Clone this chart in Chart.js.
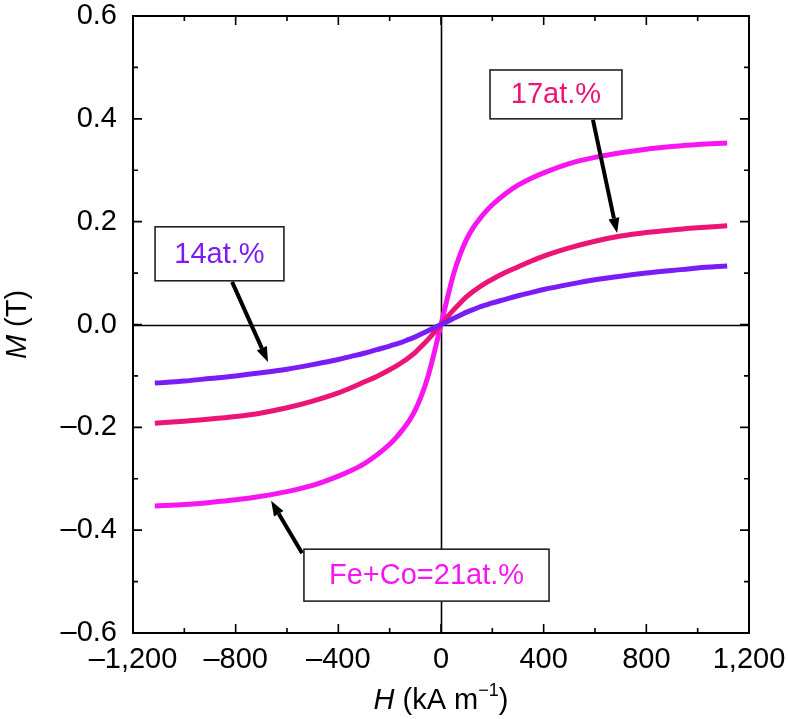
<!DOCTYPE html>
<html>
<head>
<meta charset="utf-8">
<script src="https://cdn.jsdelivr.net/npm/chart.js@4"></script>
<style>
  html, body { margin: 0; padding: 0; background: #fff; }
  #wrap { width: 788px; height: 719px; position: relative; }
</style>
</head>
<body>
<div id="wrap"><canvas id="mh"></canvas></div>
<script>
// field H (kA/m)
const hField = [-1115, -1000, -900, -800, -700, -600, -500, -400, -350, -300, -250, -200, -175, -150, -125, -100, -75, -50, -25,
  0, 25, 50, 75, 100, 125, 150, 175, 200, 250, 300, 350, 400, 500, 600, 700, 800, 900, 1000, 1115];
// magnetisation M (T)
const m21 = [-0.353, -0.350, -0.346, -0.341, -0.334, -0.325, -0.313, -0.295, -0.284, -0.271, -0.254, -0.233, -0.220, -0.205, -0.188, -0.166, -0.137, -0.100, -0.052,
  0, 0.052, 0.100, 0.137, 0.166, 0.188, 0.205, 0.220, 0.233, 0.254, 0.271, 0.284, 0.295, 0.313, 0.325, 0.334, 0.341, 0.346, 0.350, 0.353];
const m17 = [-0.192, -0.188, -0.184, -0.179, -0.172, -0.162, -0.149, -0.133, -0.123, -0.112, -0.101, -0.088, -0.081, -0.073, -0.064, -0.054, -0.042, -0.029, -0.015,
  0, 0.015, 0.029, 0.042, 0.054, 0.064, 0.073, 0.081, 0.088, 0.101, 0.112, 0.123, 0.133, 0.149, 0.162, 0.172, 0.179, 0.184, 0.188, 0.192];
const m14 = [-0.114, -0.110, -0.105, -0.100, -0.094, -0.087, -0.078, -0.068, -0.062, -0.056, -0.049, -0.042, -0.038, -0.034, -0.029, -0.024, -0.018, -0.012, -0.006,
  0, 0.006, 0.012, 0.018, 0.024, 0.029, 0.034, 0.038, 0.042, 0.049, 0.056, 0.062, 0.068, 0.078, 0.087, 0.094, 0.100, 0.105, 0.110, 0.114];

const xTicks = [-1200, -800, -400, 0, 400, 800, 1200];
const yTicks = [-0.6, -0.4, -0.2, 0, 0.2, 0.4, 0.6];

const C21 = "#f716f0";
const C17 = "#ec1476";
const C14 = "#7a1cf5";
const FONT = "'Liberation Sans', Arial, Helvetica, sans-serif";

// label boxes and arrows, in data units
const notes = [
  { text: "17at.%", color: C17, box: [191, 705, 0.495, 0.400], from: [592, 0.398], to: [686, 0.178] },
  { text: "14at.%", color: C14, box: [-1114, -612, 0.190, 0.085], from: [-814, 0.083], to: [-674, -0.073] },
  { text: "Fe+Co=21at.%", color: C21, box: [-534, 421, -0.437, -0.538], from: [-541, -0.445], to: [-662, -0.343] },
];

function pts(ys) {
  return hField.map((h, i) => ({ x: h, y: ys[i] }));
}

function fmtX(v) {
  const s = Math.abs(v).toLocaleString("en-US");
  return v < 0 ? "\u2013" + s : s;
}
function fmtY(v) {
  const s = Math.abs(v).toFixed(1);
  return v < -1e-9 ? "\u2013" + s : s;
}

function drawRich(ctx, parts, cx, cy) {
  // parts: [text, italic, sup]
  let total = 0;
  parts.forEach(p => {
    ctx.font = (p[1] ? "italic " : "") + (p[2] ? 18 : 29) + "px " + FONT;
    total += ctx.measureText(p[0]).width;
  });
  let x = cx - total / 2;
  ctx.textBaseline = "middle";
  ctx.textAlign = "left";
  parts.forEach(p => {
    ctx.font = (p[1] ? "italic " : "") + (p[2] ? 18 : 29) + "px " + FONT;
    ctx.fillText(p[0], x, p[2] ? cy - 10 : cy);
    x += ctx.measureText(p[0]).width;
  });
}

const framePlugin = {
  id: "frame",
  beforeDatasetsDraw(chart) {
    const { ctx, chartArea: a, scales: { x, y } } = chart;
    ctx.save();
    ctx.strokeStyle = "#000";
    ctx.lineWidth = 1.6;
    ctx.beginPath();
    const x0 = Math.round(x.getPixelForValue(0)) + 0.5;
    const y0 = Math.round(y.getPixelForValue(0)) + 0.5;
    ctx.moveTo(x0, a.top); ctx.lineTo(x0, a.bottom);
    ctx.moveTo(a.left, y0); ctx.lineTo(a.right, y0);
    ctx.stroke();
    ctx.restore();
  },
  afterDatasetsDraw(chart) {
    const { ctx, chartArea: a, scales: { x, y } } = chart;
    ctx.save();
    // frame
    ctx.strokeStyle = "#000";
    ctx.lineWidth = 2;
    ctx.strokeRect(a.left, a.top, a.right - a.left, a.bottom - a.top);
    // inward ticks
    ctx.lineWidth = 1.6;
    ctx.beginPath();
    for (let v = -1200; v <= 1200; v += 200) {
      const px = x.getPixelForValue(v);
      const len = v % 400 === 0 ? 9 : 5;
      ctx.moveTo(px, a.bottom); ctx.lineTo(px, a.bottom - len);
      ctx.moveTo(px, a.top); ctx.lineTo(px, a.top + len);
    }
    for (let k = -6; k <= 6; k++) {
      const py = y.getPixelForValue(k / 10);
      const len = k % 2 === 0 ? 9 : 5;
      ctx.moveTo(a.left, py); ctx.lineTo(a.left + len, py);
      ctx.moveTo(a.right, py); ctx.lineTo(a.right - len, py);
    }
    ctx.stroke();

    // arrows + boxes
    notes.forEach(n => {
      const fx = x.getPixelForValue(n.from[0]), fy = y.getPixelForValue(n.from[1]);
      const tx = x.getPixelForValue(n.to[0]), ty = y.getPixelForValue(n.to[1]);
      const ang = Math.atan2(ty - fy, tx - fx);
      const head = 15, hw = 5.5;
      const bx = tx - head * Math.cos(ang), by = ty - head * Math.sin(ang);
      ctx.strokeStyle = "#000";
      ctx.fillStyle = "#000";
      ctx.lineWidth = 4;
      ctx.beginPath();
      ctx.moveTo(fx, fy); ctx.lineTo(bx, by);
      ctx.stroke();
      ctx.beginPath();
      ctx.moveTo(tx, ty);
      ctx.lineTo(bx + hw * Math.sin(ang), by - hw * Math.cos(ang));
      ctx.lineTo(bx - hw * Math.sin(ang), by + hw * Math.cos(ang));
      ctx.closePath();
      ctx.fill();

      const l = x.getPixelForValue(n.box[0]), r = x.getPixelForValue(n.box[1]);
      const t = y.getPixelForValue(n.box[2]), b = y.getPixelForValue(n.box[3]);
      ctx.fillStyle = "#fff";
      ctx.fillRect(l, t, r - l, b - t);
      ctx.strokeStyle = "#222";
      ctx.lineWidth = 1.6;
      ctx.strokeRect(l, t, r - l, b - t);
      ctx.fillStyle = n.color;
      ctx.font = "29px " + FONT;
      ctx.textAlign = "center";
      ctx.textBaseline = "middle";
      ctx.fillText(n.text, (l + r) / 2, (t + b) / 2 + 1);
    });

    // axis titles
    ctx.fillStyle = "#000";
    drawRich(ctx, [["H", true], [" (kA m", false], ["\u22121", false, true], [")", false]], (a.left + a.right) / 2, 701);
    ctx.save();
    ctx.translate(18, (a.top + a.bottom) / 2);
    ctx.rotate(-Math.PI / 2);
    drawRich(ctx, [["M", true], [" (T)", false]], 0, 0);
    ctx.restore();
    ctx.restore();
  }
};

const line = (data, color) => ({
  data: pts(data),
  borderColor: color,
  borderWidth: 5,
  pointRadius: 0,
  fill: false,
  cubicInterpolationMode: "monotone",
});

new Chart(document.getElementById("mh").getContext("2d"), {
  type: "line",
  data: {
    datasets: [line(m14, C14), line(m17, C17), line(m21, C21)],
  },
  options: {
    responsive: true,
    maintainAspectRatio: false,
    animation: false,
    layout: { padding: { left: 0, top: 16, right: 39, bottom: 0 } },
    plugins: { legend: { display: false }, tooltip: { enabled: false } },
    scales: {
      x: {
        type: "linear",
        min: -1200,
        max: 1200,
        afterFit: s => { s.height = 86; s.paddingLeft = 0; s.paddingRight = 0; },
        afterBuildTicks: s => { s.ticks = xTicks.map(v => ({ value: v })); },
        grid: { display: false, drawTicks: false },
        border: { display: false },
        ticks: {
          color: "#000",
          padding: 10,
          maxRotation: 0,
          font: { size: 29, family: FONT },
          callback: v => fmtX(v),
        },
      },
      y: {
        type: "linear",
        min: -0.6,
        max: 0.6,
        afterFit: s => { s.width = 133; s.paddingTop = 0; s.paddingBottom = 0; },
        afterBuildTicks: s => { s.ticks = yTicks.map(v => ({ value: v })); },
        grid: { display: false, drawTicks: false },
        border: { display: false },
        ticks: {
          color: "#000",
          padding: 16,
          font: { size: 29, family: FONT },
          callback: v => fmtY(v),
        },
      },
    },
  },
  plugins: [framePlugin],
});
</script>
</body>
</html>
